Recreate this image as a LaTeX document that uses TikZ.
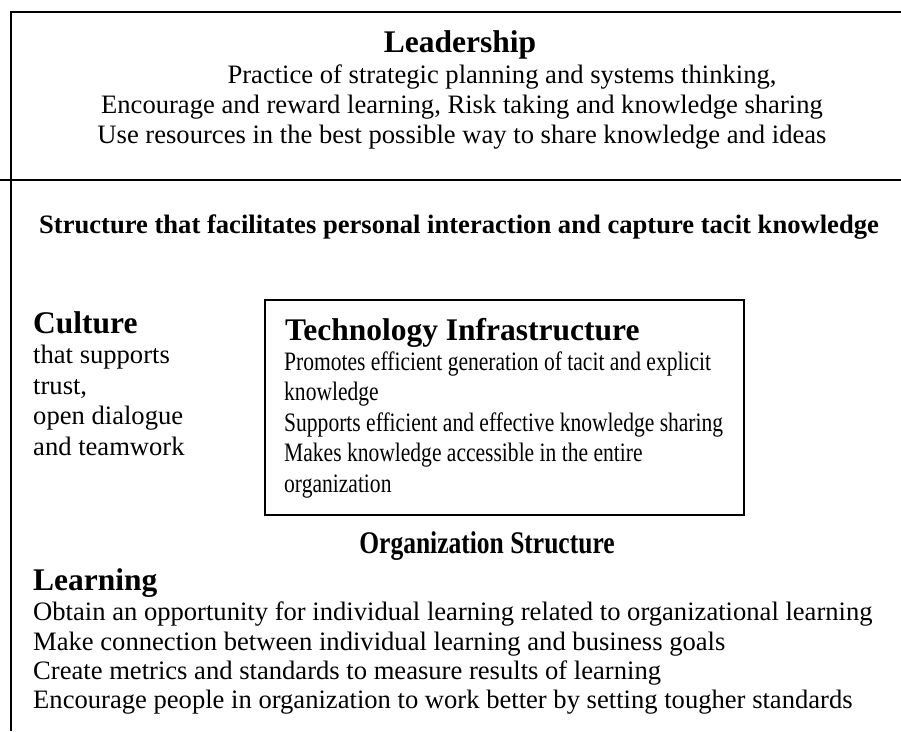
\documentclass[tikz,border=0pt]{standalone}
\usepackage{fontspec}
\setmainfont{Liberation Serif}
\newfontfamily\narrowserif[FakeStretch=0.81]{Liberation Serif}
\begin{document}
\begin{tikzpicture}[x=1pt,y=-1pt,
  head/.style={font=\fontsize{31.5}{36}\selectfont\bfseries,inner sep=0pt},
  body/.style={font=\fontsize{26.6}{30}\selectfont,inner sep=0pt},
  narrowbody/.style={font=\fontsize{26.6}{30}\narrowserif,inner sep=0pt},
  frame/.style={line width=1.4pt}]
\useasboundingbox (0,0) rectangle (901,731);
% frame lines
\draw[frame] (901,12) -- (11,12) -- (11,731);
\draw[frame] (0,180) -- (901,180);
\draw[frame] (265,300) rectangle (744,515);
% leadership
\node[head,anchor=base] (lead) at (460,52) {Leadership};
\node[body,anchor=base] (lead1) at (502,83) {Practice of strategic planning and systems thinking,};
\node[body,anchor=base] (lead2) at (462,113) {Encourage and reward learning, Risk taking and knowledge sharing};
\node[body,anchor=base] (lead3) at (462,143) {Use resources in the best possible way to share knowledge and ideas};
% structure
\node[font=\fontsize{26.6}{30}\selectfont\bfseries,inner sep=0pt,anchor=base] (struct) at (459,233)
  {Structure that facilitates personal interaction and capture tacit knowledge};
% culture
\node[head,anchor=base west] (cult) at (33,333) {Culture};
\foreach \txt [count=\i] in {that supports,{trust,},open dialogue,and teamwork}
  \node[body,anchor=base west] (cult\i) at (33,333+30.5*\i) {\txt};
% technology
\node[head,anchor=base west] (tech) at (285,340) {Technology Infrastructure};
\foreach \txt [count=\i] in {Promotes efficient generation of tacit and explicit,knowledge,
    Supports efficient and effective knowledge sharing,Makes knowledge accessible in the entire,organization}
  \node[narrowbody,anchor=base west] (tech\i) at (284,339.5+30.5*\i) {\txt};
% organization
\node[font=\fontsize{31.5}{36}\narrowserif\bfseries,inner sep=0pt,anchor=base] (org) at (487,553) {Organization Structure};
% learning
\node[head,anchor=base west] (learn) at (33,590) {Learning};
\foreach \txt [count=\i] in {Obtain an opportunity for individual learning related to organizational learning,
    Make connection between individual learning and business goals,
    Create metrics and standards to measure results of learning,
    Encourage people in organization to work better by setting tougher standards}
  \node[body,anchor=base west] (learn\i) at (33,591.5+29.3*\i) {\txt};
\end{tikzpicture}
\end{document}
